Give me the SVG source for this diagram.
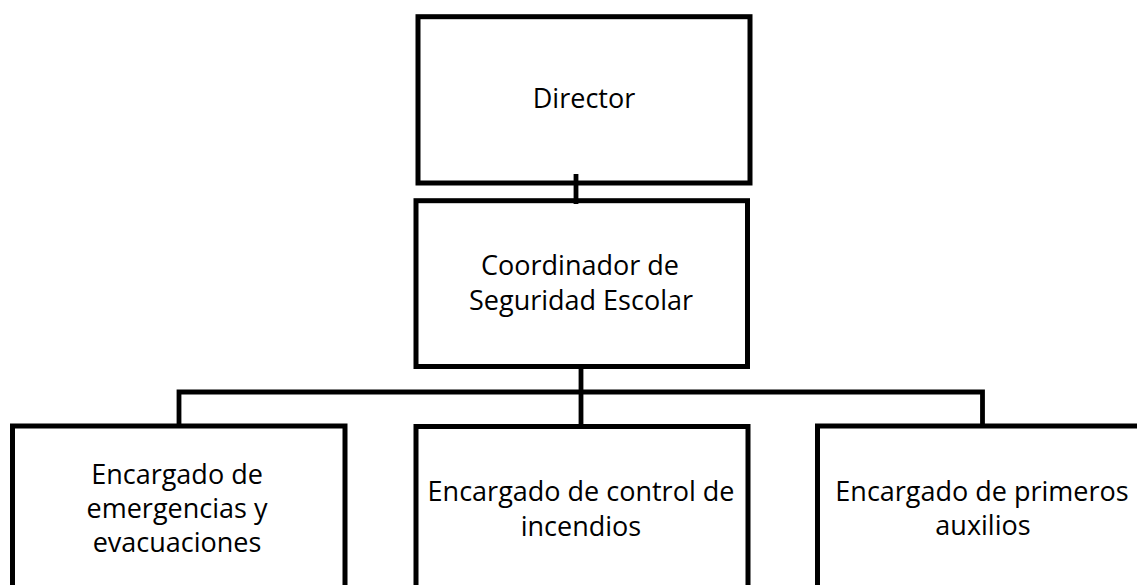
<svg xmlns="http://www.w3.org/2000/svg" width="1137" height="585" viewBox="0 0 1137 585">
<style>
.box{fill:#fff;stroke:#000;stroke-width:5}
.lbl{font-family:"Open Sans","Liberation Sans",sans-serif;font-size:27px;fill:#000;text-anchor:middle}
.con{stroke:#000;stroke-width:4.8;fill:none}
</style>
<rect width="1137" height="585" fill="#fff"/>
<g id="director">
<rect class="box" x="418" y="16.7" width="332" height="166.3"/>
<text class="lbl" x="584" y="108">Director</text>
</g>
<g id="coordinador">
<rect class="box" x="416" y="200.7" width="331.5" height="165.8"/>
<text class="lbl" x="580" y="275">Coordinador de</text>
<text class="lbl" x="581" y="310">Seguridad Escolar</text>
</g>
<g id="emergencias">
<rect class="box" x="12.5" y="426" width="332.5" height="200"/>
<text class="lbl" x="177" y="484">Encargado de</text>
<text class="lbl" x="177" y="518">emergencias y</text>
<text class="lbl" x="177" y="552">evacuaciones</text>
</g>
<g id="incendios">
<rect class="box" x="416" y="426.5" width="332" height="200"/>
<text class="lbl" x="581" y="501">Encargado de control de</text>
<text class="lbl" x="581" y="536">incendios</text>
</g>
<g id="auxilios">
<rect class="box" x="817.5" y="426" width="332" height="200"/>
<text class="lbl" x="982" y="501">Encargado de primeros</text>
<text class="lbl" x="983" y="535">auxilios</text>
</g>
<g id="connectors">
<line class="con" x1="576" y1="174" x2="576" y2="204"/>
<line class="con" x1="581" y1="366" x2="581" y2="426"/>
<polyline class="con" points="179,426 179,392 982.5,392 982.5,426"/>
</g>
</svg>
